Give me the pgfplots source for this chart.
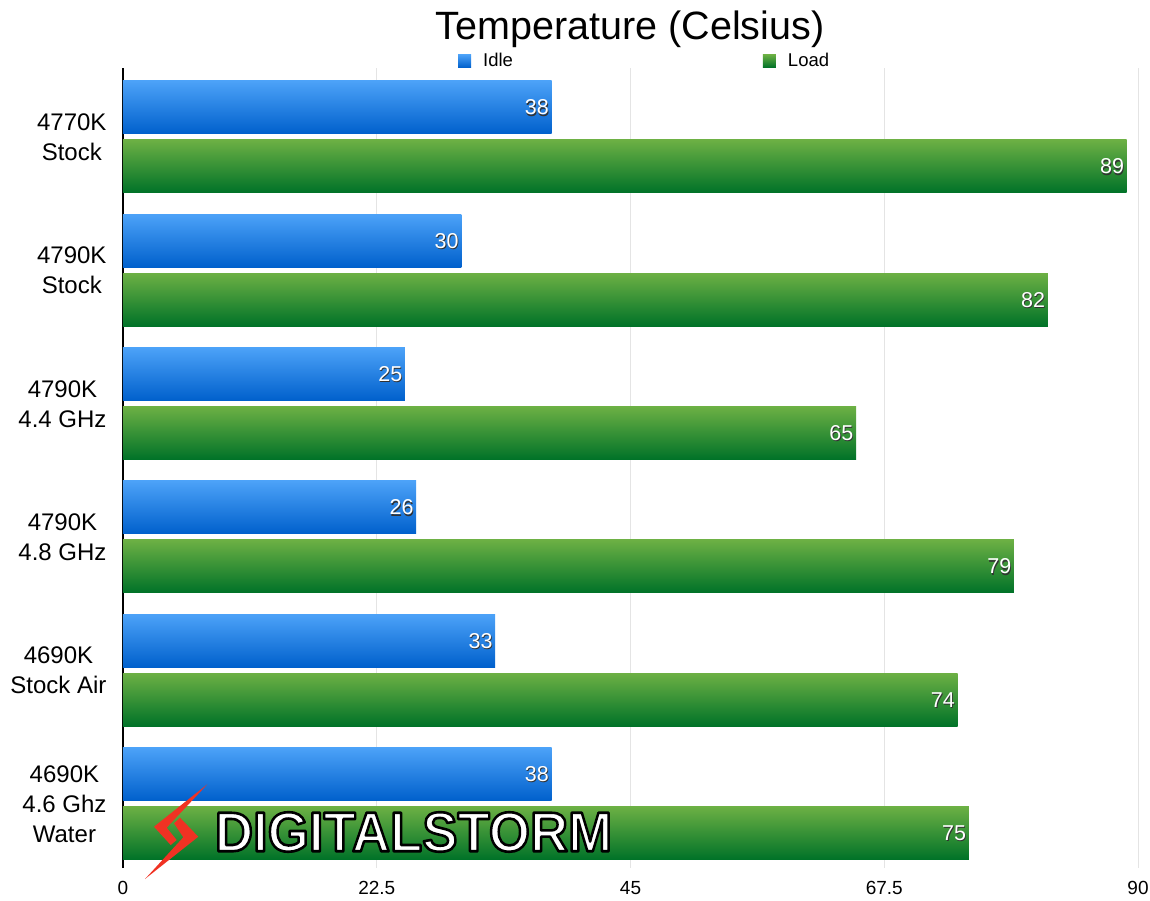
\documentclass[border=0pt]{standalone}
\usepackage{pgfplots}
\usepackage{pgfplotstable}
\pgfplotsset{compat=1.18}
\usepackage{fontspec}
\setmainfont{Liberation Sans}
\definecolor{idletop}{RGB}{76,162,248}
\definecolor{idlebot}{RGB}{0,96,204}
\definecolor{loadtop}{RGB}{108,176,68}
\definecolor{loadbot}{RGB}{0,114,40}
\definecolor{gridc}{RGB}{228,228,228}
\definecolor{boltred}{RGB}{240,50,35}
\definecolor{shadowc}{RGB}{50,50,50}

\pgfplotstableread{
y idle load
5 38 89
4 30 82
3 25 65
2 26 79
1 33 74
0 38 75
}\datatable

\begin{document}
\begin{tikzpicture}[x=1pt,y=1pt]
\useasboundingbox (0,0) rectangle (1150,900);
\begin{axis}[
  at={(123pt,32pt)}, anchor=south west,
  width=1015pt, height=800pt, scale only axis,
  xbar, bar width=53pt,
  xmin=0, xmax=90, ymin=-0.5, ymax=5.5,
  xtick={0,22.5,45,67.5,90}, xticklabels={0,22.5,45,67.5,90},
  ytick={0,1,2,3,4,5},
  yticklabels={{4690K\\4.6 Ghz\\Water},{4690K\\Stock Air},{4790K\\4.8 GHz},{4790K\\4.4 GHz},{4790K\\Stock},{4770K\\Stock}},
  yticklabel style={align=center, font=\fontsize{24}{30}\selectfont, xshift=-13pt, yshift=-2.5pt},
  xticklabel style={font=\fontsize{19}{22}\selectfont, yshift=-10pt},
  /pgf/number format/assume math mode=true,
  major tick length=0pt,
  xmajorgrids, grid style={gridc, line width=1pt},
  axis x line*=bottom, axis y line*=left,
  x axis line style={draw=none},
  y axis line style={black, line width=1.2pt},
  point meta=x,
  legend style={at={(rel axis cs:0.330,1)}, anchor=west, yshift=7pt,
    draw=none, fill=none, inner sep=0pt,
    font=\fontsize{18.5}{20}\selectfont, legend columns=2,
    /tikz/every odd column/.append style={column sep=10pt},
    /tikz/every even column/.append style={column sep=248pt}},
]
\addlegendimage{draw=none, legend image code/.code={\shade[draw=none, top color=idletop,bottom color=idlebot] (0pt,-6.5pt) rectangle (13pt,6.5pt);}}
\addlegendentry{Idle}
\addlegendimage{draw=none, legend image code/.code={\shade[draw=none, top color=loadtop,bottom color=loadbot] (0pt,-6.5pt) rectangle (13pt,6.5pt);}}
\addlegendentry{Load}
\pgfplotsinvokeforeach{0,1,2,3,4,5}{
  \addplot[draw=none, top color=idletop, bottom color=idlebot, bar shift=27.2pt, forget plot,
    restrict y to domain=#1:#1]
    table[x=idle, y=y] {\datatable};
  \addplot[draw=none, top color=loadtop, bottom color=loadbot, bar shift=-31.8pt, forget plot,
    restrict y to domain=#1:#1]
    table[x=load, y=y] {\datatable};
}
% label shadows and labels
\addplot[draw=none, fill=none, bar shift=27.2pt, forget plot,
  nodes near coords, nodes near coords align={anchor=east},
  every node near coord/.append style={anchor=east, inner sep=2.5pt, xshift=0.8pt, yshift=-1.2pt, text=shadowc, font=\fontsize{21.5}{24}\selectfont}]
  table[x=idle, y=y] {\datatable};
\addplot[draw=none, fill=none, bar shift=-31.8pt, forget plot,
  nodes near coords, nodes near coords align={anchor=east},
  every node near coord/.append style={anchor=east, inner sep=2.5pt, xshift=0.8pt, yshift=-1.2pt, text=shadowc, font=\fontsize{21.5}{24}\selectfont}]
  table[x=load, y=y] {\datatable};
\addplot[draw=none, fill=none, bar shift=27.2pt, forget plot,
  nodes near coords, nodes near coords align={anchor=east},
  every node near coord/.append style={anchor=east, inner sep=2.5pt, text=white, font=\fontsize{21.5}{24}\selectfont}]
  table[x=idle, y=y] {\datatable};
\addplot[draw=none, fill=none, bar shift=-31.8pt, forget plot,
  nodes near coords, nodes near coords align={anchor=east},
  every node near coord/.append style={anchor=east, inner sep=2.5pt, text=white, font=\fontsize{21.5}{24}\selectfont}]
  table[x=load, y=y] {\datatable};
\end{axis}
% title
\node[anchor=base, font=\fontsize{39.5}{44}\selectfont] at (630,860) {Temperature (Celsius)};
% watermark logo
\node[xscale=0.945, font=\fontsize{55.9}{60}\bfseries, inner sep=0pt] at (413.5,68)
  {\color{white}\special{pdf:literal direct 2 Tr 2.6 w 1 j 0 G}DIGITALSTORM\special{pdf:literal direct 0 Tr}};
\fill[boltred] (207.3,115.7) -- (154,73.3) -- (170.7,55) -- (176.7,60) -- (166.7,72.3) -- cycle;
\fill[boltred] (180,82.3) -- (198.3,63.3) -- (145,21) -- (183.3,62.7) -- (174,76.7) -- cycle;
\end{tikzpicture}
\end{document}
